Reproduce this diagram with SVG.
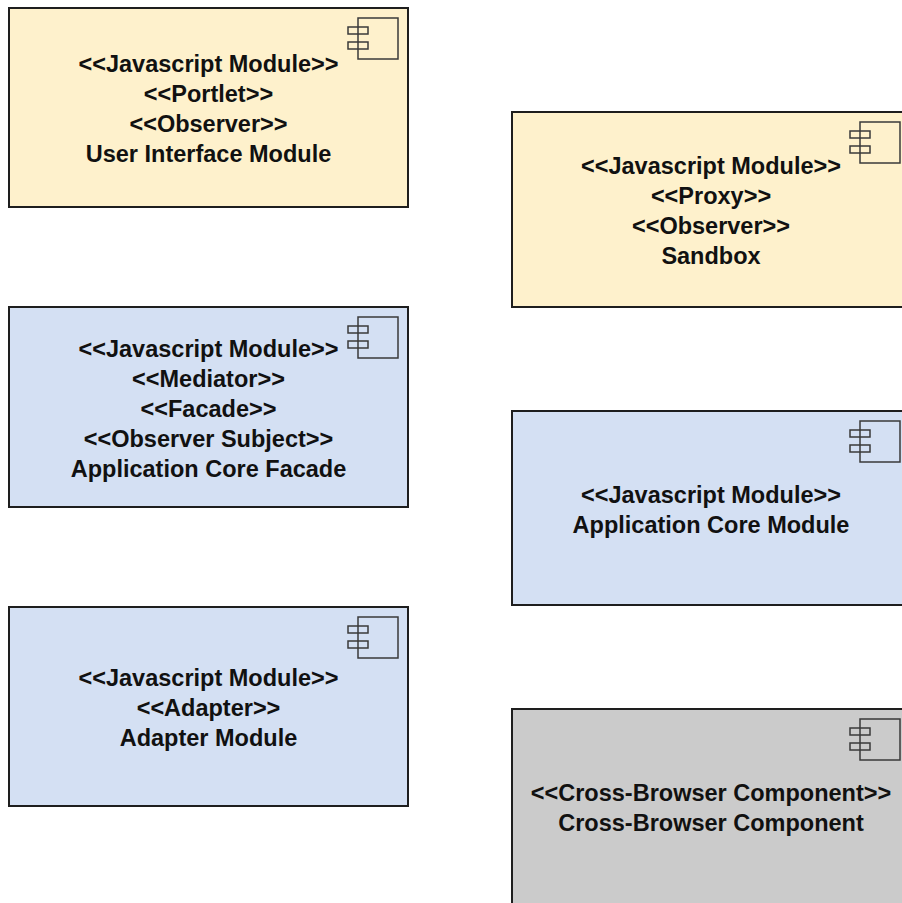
<svg xmlns="http://www.w3.org/2000/svg" width="902" height="903" viewBox="0 0 902 903">
<defs>
<style>
.box{stroke:#1e1e1e;stroke-width:2}
.yel{fill:#fef1cc}
.blu{fill:#d4e0f3}
.gry{fill:#cbcbcb}
.ico{fill:none;stroke:#3a3a3a;stroke-width:1.5}
text{font-family:"Liberation Sans",Arial,sans-serif;font-weight:bold;font-size:23.5px;fill:#111;text-anchor:middle}
</style>
<g id="icon">
<rect x="-50" y="10" width="40" height="41" class="ico"/>
<rect x="-60" y="19" width="20" height="7" class="ico"/>
<rect x="-60" y="34" width="20" height="7" class="ico"/>
</g>
</defs>
<rect width="902" height="903" fill="#fff"/>
<g id="connectors"/>
<g id="ui-module">
<rect x="9" y="8" width="399" height="199" class="box yel"/>
<use href="#icon" x="408" y="8"/>
<text x="208.5" y="72">&lt;&lt;Javascript Module&gt;&gt;</text>
<text x="208.5" y="102">&lt;&lt;Portlet&gt;&gt;</text>
<text x="208.5" y="132">&lt;&lt;Observer&gt;&gt;</text>
<text x="208.5" y="162">User Interface Module</text>
</g>
<g id="sandbox">
<rect x="512" y="112" width="398" height="195" class="box yel"/>
<use href="#icon" x="910" y="112"/>
<text x="711" y="174">&lt;&lt;Javascript Module&gt;&gt;</text>
<text x="711" y="204">&lt;&lt;Proxy&gt;&gt;</text>
<text x="711" y="234">&lt;&lt;Observer&gt;&gt;</text>
<text x="711" y="264">Sandbox</text>
</g>
<g id="app-core-facade">
<rect x="9" y="307" width="399" height="200" class="box blu"/>
<use href="#icon" x="408" y="307"/>
<text x="208.5" y="356.5">&lt;&lt;Javascript Module&gt;&gt;</text>
<text x="208.5" y="386.5">&lt;&lt;Mediator&gt;&gt;</text>
<text x="208.5" y="416.5">&lt;&lt;Facade&gt;&gt;</text>
<text x="208.5" y="446.5">&lt;&lt;Observer Subject&gt;&gt;</text>
<text x="208.5" y="476.5">Application Core Facade</text>
</g>
<g id="app-core-module">
<rect x="512" y="411" width="398" height="194" class="box blu"/>
<use href="#icon" x="910" y="411"/>
<text x="711" y="502.5">&lt;&lt;Javascript Module&gt;&gt;</text>
<text x="711" y="532.5">Application Core Module</text>
</g>
<g id="adapter-module">
<rect x="9" y="607" width="399" height="199" class="box blu"/>
<use href="#icon" x="408" y="607"/>
<text x="208.5" y="686">&lt;&lt;Javascript Module&gt;&gt;</text>
<text x="208.5" y="716">&lt;&lt;Adapter&gt;&gt;</text>
<text x="208.5" y="746">Adapter Module</text>
</g>
<g id="cross-browser">
<rect x="512" y="709" width="398" height="196" class="box gry"/>
<use href="#icon" x="910" y="709"/>
<text x="711" y="801">&lt;&lt;Cross-Browser Component&gt;&gt;</text>
<text x="711" y="831">Cross-Browser Component</text>
</g>
</svg>
